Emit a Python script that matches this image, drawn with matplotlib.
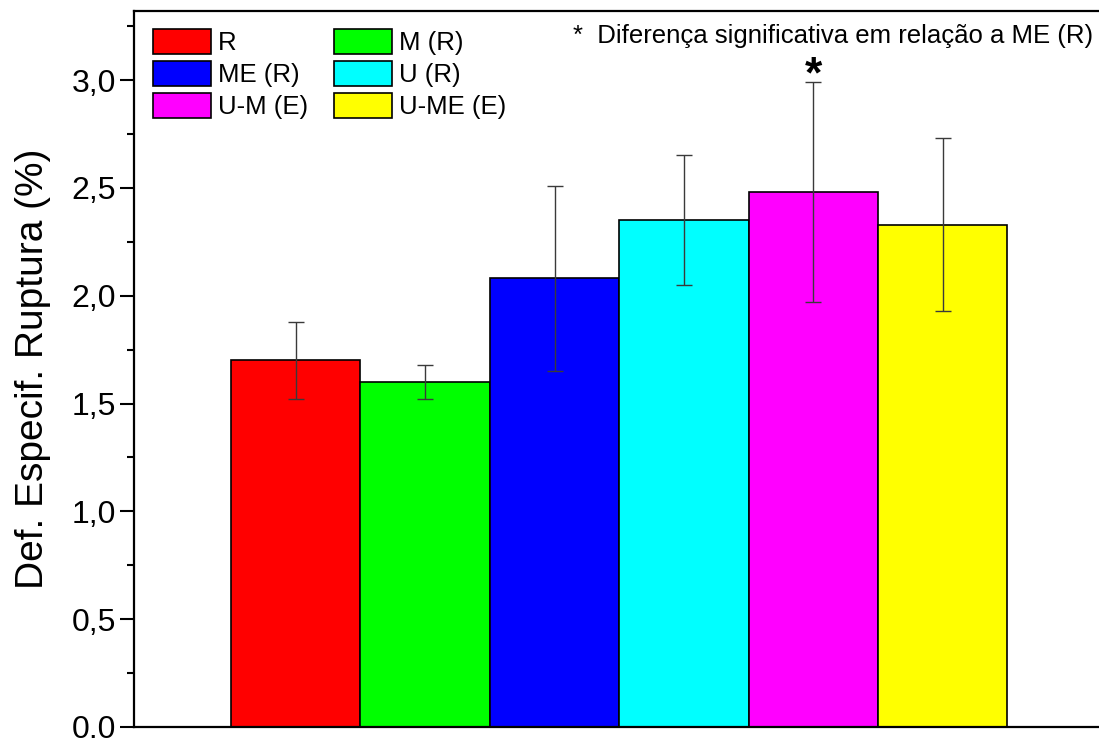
from matplotlib import pyplot as plt
from matplotlib.ticker import MultipleLocator, FuncFormatter
import numpy as np

plt.rcParams['font.family'] = ['Liberation Sans', 'DejaVu Sans']

# dados
grupos = ['R', 'M (R)', 'ME (R)', 'U (R)', 'U-M (E)', 'U-ME (E)']
media = [1.70, 1.60, 2.08, 2.35, 2.48, 2.33]
desvio = [0.18, 0.08, 0.43, 0.30, 0.51, 0.40]
cores = ['#ff0000', '#00ff00', '#0000ff', '#00ffff', '#ff00ff', '#ffff00']

fig = plt.figure(figsize=(10.99, 7.38), dpi=100)
ax = fig.add_axes([134 / 1099, 11 / 738, 970.5 / 1099, 716 / 738])

x = np.arange(1, len(grupos) + 1)
barras = ax.bar(x, media, width=1.0, color=cores, edgecolor='black', linewidth=1.2,
                yerr=desvio, ecolor='#3a3a3a', capsize=5.5,
                error_kw=dict(elinewidth=1.0, capthick=1.0), zorder=2)

ax.set_xlim(-0.25, 7.25)
ax.set_ylim(0, 3.32)
ax.set_xticks([])
ax.yaxis.set_major_locator(MultipleLocator(0.5))
ax.yaxis.set_minor_locator(MultipleLocator(0.25))
ax.yaxis.set_major_formatter(FuncFormatter(lambda v, p: ('%.1f' % v).replace('.', ',')))
ax.tick_params(axis='y', which='major', direction='out', length=10, width=1.5, labelsize=23, pad=3)
ax.tick_params(axis='y', which='minor', direction='out', length=5, width=1.5)
for s in ax.spines.values():
    s.set_linewidth(1.6)
ax.set_ylabel('Def. Especif. Ruptura (%)', fontsize=28, labelpad=15)

# asterisco sobre U-M (E)
ax.annotate('*', xy=(5, media[4] + desvio[4]), xytext=(0, -10), textcoords='offset points',
            ha='center', va='bottom', fontsize=32, fontweight='bold')
ax.text(573 / 1099, 1 - 36 / 738, '*  Diferença significativa em relação a ME (R)',
        transform=fig.transFigure, fontsize=18.5, va='center', ha='left')

# legenda (preenche por colunas)
ordem = [0, 2, 4, 1, 3, 5]
leg = ax.legend([barras[i] for i in ordem], [grupos[i] for i in ordem], ncol=2,
                loc='upper left', bbox_to_anchor=(153 / 1099, 1 - 29 / 738),
                bbox_transform=fig.transFigure, frameon=False, fontsize=18.5,
                handlelength=2.25, handleheight=1.12, handletextpad=0.28,
                labelspacing=0.22, columnspacing=1.0, borderpad=0, borderaxespad=0)

plt.savefig('out.png', dpi=100)
